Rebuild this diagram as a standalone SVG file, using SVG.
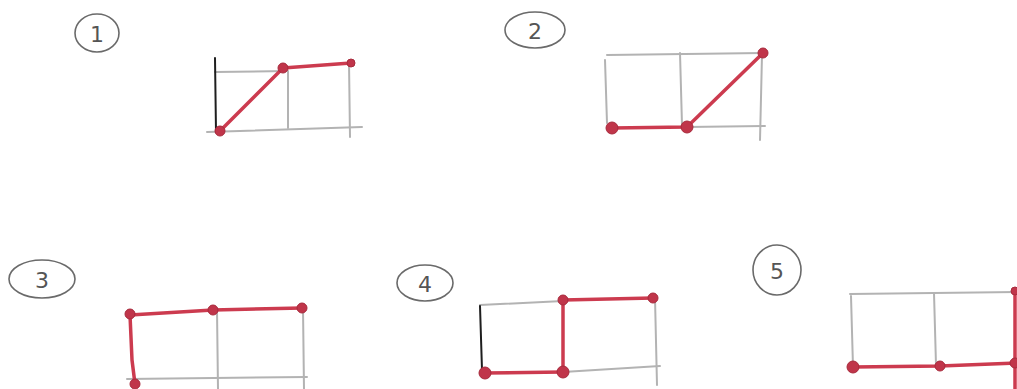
<svg xmlns="http://www.w3.org/2000/svg" width="1017" height="389" viewBox="0 0 1017 389">
<style>
.bg{fill:#ffffff}
.grid{fill:none;stroke:#b3b3b3;stroke-width:2;stroke-linecap:round}
.ink{fill:none;stroke:#1e1e1e;stroke-width:2;stroke-linecap:round}
.red{fill:none;stroke:#cc3b4f;stroke-width:3.5;stroke-linecap:round;stroke-linejoin:round}
.dot{fill:#c0354a;stroke:#a82a3c;stroke-width:1}
.lbl{fill:none;stroke:#6a6a6a;stroke-width:1.6}
.num{font-family:"DejaVu Sans",sans-serif;font-size:22px;fill:#555;text-anchor:middle;dominant-baseline:central}
</style>
<rect class="bg" x="0" y="0" width="1017" height="389"/>

<g id="panel1">
  <ellipse class="lbl" cx="97" cy="33" rx="22" ry="19"/>
  <text class="num" x="97" y="34">1</text>
  <path class="grid" d="M215 72 L288 71"/>
  <path class="grid" d="M288 72 L288 128"/>
  <path class="grid" d="M349 62 L350 137"/>
  <path class="grid" d="M207 132 L362 127"/>
  <path class="ink" d="M215 58 L216 132"/>
  <path class="red" d="M220 131 L283 68 L351 63"/>
  <circle class="dot" cx="220" cy="131" r="5"/>
  <circle class="dot" cx="283" cy="68" r="5"/>
  <circle class="dot" cx="351" cy="63" r="4"/>
</g>

<g id="panel2">
  <ellipse class="lbl" cx="535" cy="30" rx="30" ry="18"/>
  <text class="num" x="535" y="31">2</text>
  <path class="grid" d="M607 55 L763 53"/>
  <path class="grid" d="M605 60 L607 123"/>
  <path class="grid" d="M680 53 L682 125"/>
  <path class="grid" d="M762 55 L760 140"/>
  <path class="grid" d="M687 127 L765 126"/>
  <path class="red" d="M612 128 L687 127 L763 53"/>
  <circle class="dot" cx="612" cy="128" r="6"/>
  <circle class="dot" cx="687" cy="127" r="6"/>
  <circle class="dot" cx="763" cy="53" r="5"/>
</g>

<g id="panel3">
  <ellipse class="lbl" cx="42" cy="279" rx="33" ry="19"/>
  <text class="num" x="42" y="280">3</text>
  <path class="grid" d="M217 310 L218 389"/>
  <path class="grid" d="M303 308 L304 389"/>
  <path class="grid" d="M127 379 L307 377"/>
  <path class="red" d="M130 315 L213 310 L302 308"/>
  <path class="red" d="M130 315 L132 360 L135 384"/>
  <circle class="dot" cx="130" cy="314" r="5"/>
  <circle class="dot" cx="213" cy="310" r="5"/>
  <circle class="dot" cx="302" cy="308" r="5"/>
  <circle class="dot" cx="135" cy="384" r="5"/>
</g>

<g id="panel4">
  <ellipse class="lbl" cx="425" cy="283" rx="28" ry="18"/>
  <text class="num" x="425" y="284">4</text>
  <path class="grid" d="M480 305 L563 301"/>
  <path class="grid" d="M563 372 L660 366"/>
  <path class="grid" d="M655 298 L657 385"/>
  <path class="ink" d="M480 306 L482 370"/>
  <path class="red" d="M563 300 L653 298"/>
  <path class="red" d="M563 300 L563 372"/>
  <path class="red" d="M485 373 L563 372"/>
  <circle class="dot" cx="485" cy="373" r="6"/>
  <circle class="dot" cx="563" cy="300" r="5"/>
  <circle class="dot" cx="563" cy="372" r="6"/>
  <circle class="dot" cx="653" cy="298" r="5"/>
</g>

<g id="panel5">
  <ellipse class="lbl" cx="777" cy="270" rx="24" ry="25"/>
  <text class="num" x="777" y="271">5</text>
  <path class="grid" d="M850 294 L1017 292"/>
  <path class="grid" d="M851 296 L853 367"/>
  <path class="grid" d="M934 293 L936 365"/>
  <path class="red" d="M853 367 L940 366 L1017 363"/>
  <path class="red" d="M1015 290 L1015 389"/>
  <circle class="dot" cx="853" cy="367" r="6"/>
  <circle class="dot" cx="940" cy="366" r="5"/>
  <circle class="dot" cx="1015" cy="363" r="5"/>
  <circle class="dot" cx="1015" cy="291" r="4"/>
</g>
</svg>
